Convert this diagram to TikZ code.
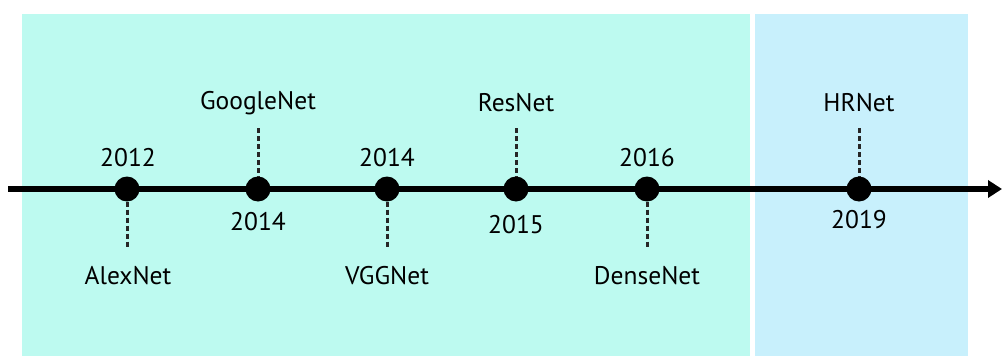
\documentclass[tikz,border=0pt]{standalone}
\usepackage{fontspec}
\setmainfont{PT Sans}
\usetikzlibrary{arrows.meta}
\definecolor{panelA}{RGB}{189,250,240}
\definecolor{panelB}{RGB}{200,240,252}
\tikzset{
  dot/.style={circle,fill=black,inner sep=0pt,minimum size=25pt},
  lbl/.style={font=\fontsize{25.5}{30}\selectfont,inner sep=0pt,anchor=center},
  guide/.style={line width=3pt,dash pattern=on 5pt off 3pt,black!85},
}
\begin{document}
\begin{tikzpicture}[x=1pt,y=-1pt]
\useasboundingbox (0,0) rectangle (1002,356);
\fill[panelA] (22,14) rectangle (750,356);
\fill[panelB] (755,14) rectangle (968,356);
\coordinate (s) at (8,189);
\coordinate (e) at (1002,189);
\draw[line width=5.5pt,-{Triangle[length=14pt,width=17pt]}] (s) -- (e);
% dots
\node[dot] (d1) at (127,189) {};
\node[dot] (d2) at (258,189) {};
\node[dot] (d3) at (387,189) {};
\node[dot] (d4) at (516,189) {};
\node[dot] (d5) at (647,189) {};
\node[dot] (d6) at (859,189) {};
% labels
\node[lbl] (y1) at (128,158) {2012};
\node[lbl] (n1) at (128,276) {AlexNet};
\node[lbl] (n2) at (258,103) {GoogleNet};
\node[lbl] (y2) at (258,222) {2014};
\node[lbl] (y3) at (387,158) {2014};
\node[lbl] (n3) at (387,276) {VGGNet};
\node[lbl] (n4) at (516,103) {ResNet};
\node[lbl] (y4) at (516,225) {2015};
\node[lbl] (y5) at (647,158) {2016};
\node[lbl] (n5) at (647,276) {DenseNet};
\node[lbl] (n6) at (859,103) {HRNet};
\node[lbl] (y6) at (859,220) {2019};
% guides
\coordinate (g1) at (127,249);
\draw[guide] (d1.south) -- (g1);
\coordinate (g2) at (258,128);
\draw[guide] (g2) -- (d2.north);
\coordinate (g3) at (387,249);
\draw[guide] (d3.south) -- (g3);
\coordinate (g4) at (516,128);
\draw[guide] (g4) -- (d4.north);
\coordinate (g5) at (647,249);
\draw[guide] (d5.south) -- (g5);
\coordinate (g6) at (859,128);
\draw[guide] (g6) -- (d6.north);
\end{tikzpicture}
\end{document}
